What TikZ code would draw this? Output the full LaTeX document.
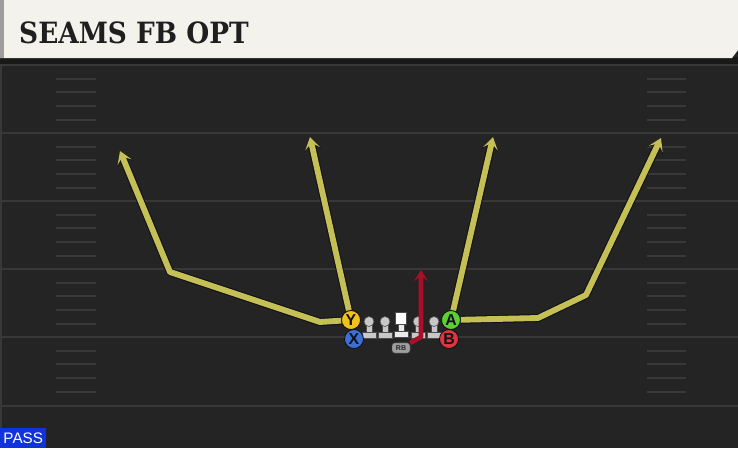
\documentclass[tikz,border=0pt]{standalone}
\usepackage{fontspec}
\setmainfont{DejaVu Serif}
\setsansfont{Liberation Sans}
\newfontfamily\titlefont{DejaVu Serif Condensed}
\usetikzlibrary{arrows.meta}
\definecolor{turf}{HTML}{242424}
\definecolor{cream}{HTML}{F4F2EC}
\definecolor{yardcol}{HTML}{383838}
\definecolor{routeyel}{HTML}{C4C055}
\definecolor{outline}{HTML}{101018}
\definecolor{blockred}{HTML}{A8102A}
\definecolor{ycol}{HTML}{F2C21B}
\definecolor{xcol}{HTML}{3B6FD4}
\definecolor{acol}{HTML}{5CCF32}
\definecolor{bcol}{HTML}{E0353D}
\definecolor{linegray}{HTML}{C8C8C8}
\definecolor{passblue}{HTML}{1133DD}

\tikzset{
  rcv/.style={circle, draw=outline, line width=0.7pt, minimum size=0.57cm, inner sep=0pt,
    font=\sffamily\bfseries\fontsize{13.5}{13.5}\selectfont, text=outline},
  yardline/.style={draw=yardcol, line width=1.6pt},
  hash/.style={draw=yardcol, line width=1.2pt},
  routeedge/.style={draw=outline, line width=6.8pt, line join=round, -{Stealth[length=12pt,width=15pt,inset=6pt]}},
  routeline/.style={draw=routeyel, line width=5pt, line join=round, -{Stealth[length=10.4pt,width=13pt,inset=5.2pt]}},
  lineman/.style={fill=linegray, draw=black!70, line width=0.5pt},
}

\begin{document}
\begin{tikzpicture}[x=0.03cm,y=-0.03cm]
  \useasboundingbox (0,0) rectangle (738,448);
  \fill[turf] (0,0) rectangle (738,448);
  % field
  \foreach \y in {65,133,201,269,337,406}
  	\draw[yardline] (0,\y) -- (738,\y);
  \draw[draw=yardcol, line width=1.2pt] (1,64) -- (1,428);
  \foreach \y in {65,133,201,269,337}{
  	\foreach \d in {14,27,41,55}{
  	  \draw[hash] (56,\y+\d) -- (96,\y+\d);
  	  \draw[hash] (647,\y+\d) -- (686,\y+\d);
  	}
  }
  % header
  \fill[black!90] (0,57) rectangle (738,64);
  \fill[cream] (0,0) -- (738,0) -- (738,50) -- (732,58) -- (0,58) -- cycle;
  \fill[black!38] (0,0) rectangle (4,58);
  \node[anchor=west, inner sep=0pt, text=black!88, font=\titlefont\bfseries\fontsize{25}{25}\selectfont] (title) at (19,33) {SEAMS FB OPT};

  % line
  \foreach \x in {369,385,418,434}{
  	\filldraw[lineman] (\x-7,332) rectangle (\x+7,338);
  	\filldraw[lineman] (\x-3,323) rectangle (\x+3,332);
  	\filldraw[lineman] (\x,321.5) circle (5);
  }
  \filldraw[lineman, fill=white!92!black] (394,331) rectangle (408,337);
  \filldraw[lineman, fill=white!92!black] (398,323) rectangle (404,331);
  \filldraw[lineman, fill=white] (395.5,312.5) rectangle (406.5,324);

  % skill players
  \node[rcv, fill=ycol] (Y) at (351,320) {Y};
  \node[rcv, fill=xcol] (X) at (354,339) {X};
  \node[rcv, fill=acol] (A) at (451,320) {A};
  \node[rcv, fill=bcol] (B) at (449,339) {B};
  \node[draw=black!70, fill=black!38, rounded corners=2.5pt, minimum width=0.54cm, minimum height=0.31cm,
    inner sep=0pt, font=\sffamily\bfseries\fontsize{6}{6}\selectfont, text=black!85] (RB) at (401,348) {RB};

  % route points
  \coordinate (lsplit) at (320,322);
  \coordinate (lbend) at (170,272);
  \coordinate (ltip) at (120,151);
  \coordinate (lseam) at (310,137);
  \coordinate (rseam) at (493,137);
  \coordinate (rsplit) at (538,318);
  \coordinate (rbend) at (586,295);
  \coordinate (rtip) at (661,138);
  \coordinate (rbturn) at (421,337);
  \coordinate (rbtip) at (421,270);

  \foreach \sty in {routeedge,routeline}{
  	\draw[\sty] (Y) -- (lsplit) -- (lbend) -- (ltip);
  	\draw[\sty] (Y) -- (lseam);
  	\draw[\sty] (A) -- (rseam);
  	\draw[\sty] (A) -- (rsplit) -- (rbend) -- (rtip);
  }
  \draw[draw=blockred, line width=4pt, line join=round, -{Stealth[length=9.5pt,width=12pt,inset=4.8pt]}] (RB) -- (rbturn) -- (rbtip);

  % play type
  \node[fill=passblue, text=white, anchor=south west, minimum width=1.38cm, minimum height=0.6cm, inner sep=0pt,
    font=\sffamily\fontsize{13}{13}\selectfont] (play) at (0,448) {PASS};
\end{tikzpicture}
\end{document}
